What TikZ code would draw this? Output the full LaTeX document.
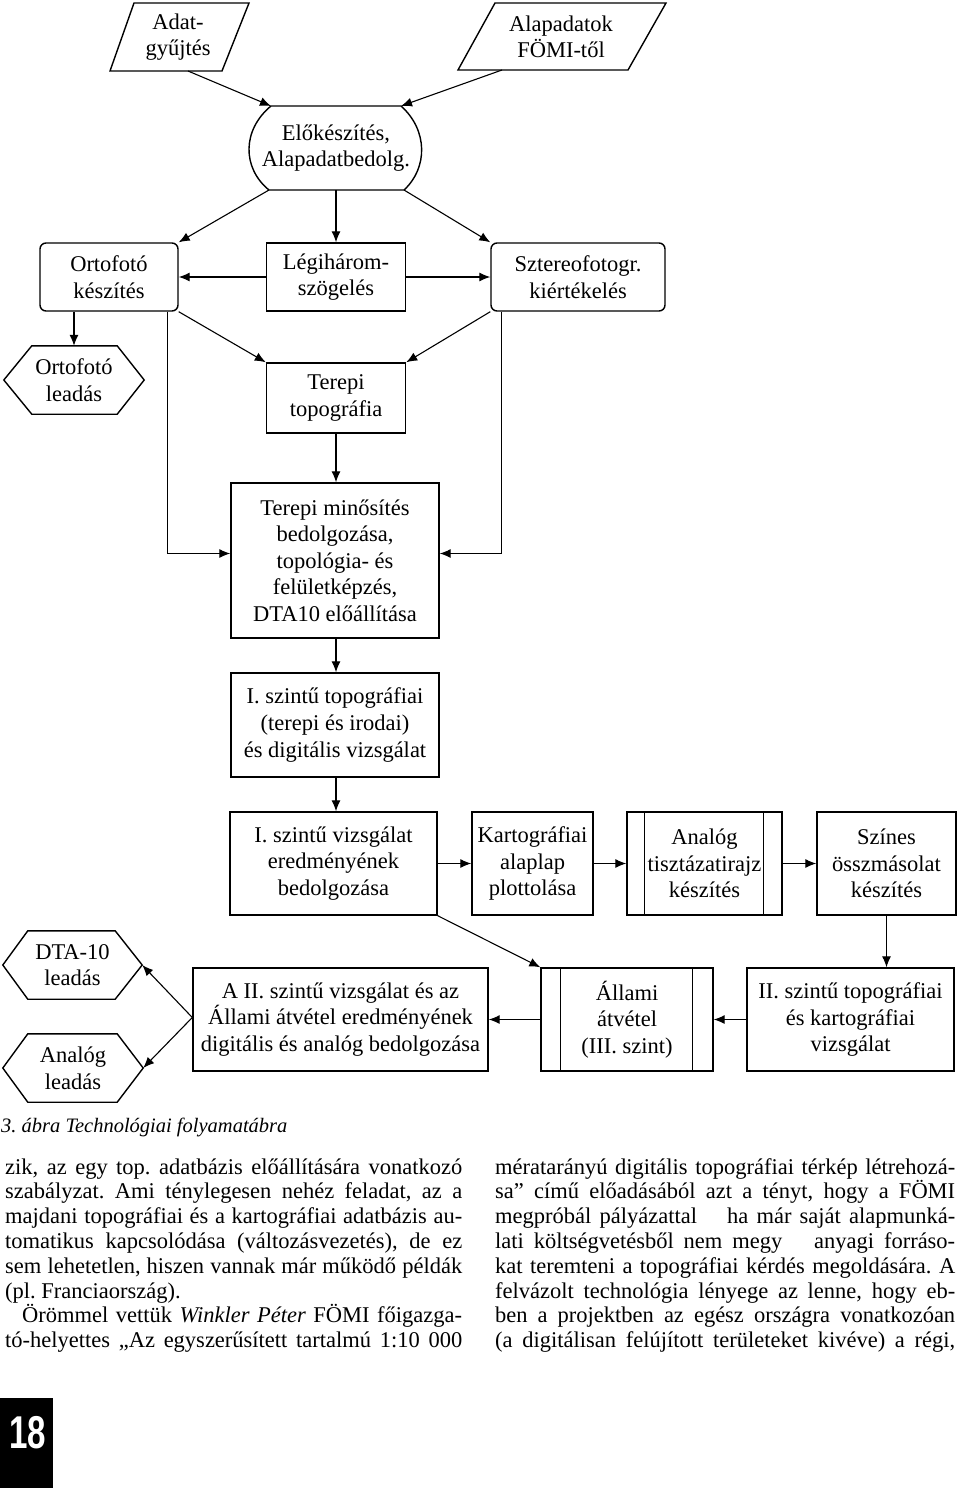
\documentclass[tikz,border=0pt]{standalone}
\usepackage{fontspec}
\setmainfont{Liberation Serif}
\newfontfamily\numfont{Liberation Sans}
\usetikzlibrary{arrows.meta,calc}
\frenchspacing
\newcommand\dfont{\fontsize{22.5}{26.6}\selectfont}
\newcommand\bfont{\fontsize{22.5}{24.8}\selectfont}
\newcommand\jline[2]{\makebox[#1][s]{\spaceskip=0.25em plus 1em minus 0.12em #2}}
\begin{document}
\begin{tikzpicture}[x=1pt,y=-1pt,
  lbl/.style={align=center,font=\dfont,inner sep=0pt},
  box/.style={draw,line width=1.4pt,rectangle,inner sep=0pt,align=center,font=\dfont},
  rbox/.style={box,rounded corners=6pt},
  hexnode/.style={inner sep=0pt,align=center,font=\dfont},
  shapeline/.style={line width=1.4pt,line join=miter},
  conn/.style={line width=1.1pt,-{Latex[length=11pt,width=9pt]}},
  body/.style={anchor=base west,inner sep=0pt,font=\bfont}]
\fill[white] (0,0) rectangle (960,1488);
\useasboundingbox (0,0) rectangle (960,1488);

% ---------- top inputs ----------
\node[lbl] (adat) at (178,37) {Adat-\\gyűjtés};
\draw[shapeline] (134,3) -- (249,3) -- (222,71) -- (110,71) -- cycle;
\coordinate (adatout) at (188,71);
\node[lbl] (alap) at (561,37) {Alapadatok\\FÖMI-től};
\draw[shapeline] (495,3) -- (666,3) -- (628,70) -- (458,70) -- cycle;
\coordinate (alapout) at (502,70);

% ---------- Előkészítés ----------
\node[lbl,minimum width=133pt,minimum height=84pt] (elo) at (336,148) {Előkészítés,\\Alapadatbedolg.};
\coordinate (elonw) at (271,106);
\coordinate (elone) at (401,106);
\coordinate (elosw) at (269,190);
\coordinate (elose) at (404,190);
\draw[shapeline] (elonw) -- (elone) .. controls (428,130) and (428,168) .. (elose) -- (elosw) .. controls (242,168) and (242,130) .. (elonw) -- cycle;

% ---------- row 2 ----------
\node[rbox,minimum width=138pt,minimum height=68pt] (orto) at (109,277) {Ortofotó\\készítés};
\node[box,minimum width=139pt,minimum height=68pt] (legi) at (336,277) {Légihárom-\\szögelés};
\node[rbox,minimum width=174pt,minimum height=68pt] (szt) at (578,277) {Sztereofotogr.\\kiértékelés};

% Ortofotó leadás hexagon
\node[hexnode,minimum width=140pt,minimum height=68pt] (ortol) at (74,380) {Ortofotó\\leadás};
\draw[shapeline] (ortol.west) -- ($(ortol.north west)+(28,0)$) -- ($(ortol.north east)+(-27,0)$) -- (ortol.east) -- ($(ortol.south east)+(-27,0)$) -- ($(ortol.south west)+(28,0)$) -- cycle;

\node[box,minimum width=139pt,minimum height=70pt] (ttopo) at (336,398) {Terepi\\topográfia};
\node[box,minimum width=208pt,minimum height=155pt] (tmin) at (335,560.5) {Terepi minősítés\\bedolgozása,\\topológia- és\\felületképzés,\\DTA10 előállítása};
\node[box,minimum width=208pt,minimum height=104pt] (itopo) at (335,725) {I. szintű topográfiai\\(terepi és irodai)\\és digitális vizsgálat};

% ---------- row of four ----------
\node[box,minimum width=207pt,minimum height=103pt] (ivizs) at (333.5,863.5) {I. szintű vizsgálat\\eredményének\\bedolgozása};
\node[box,minimum width=121pt,minimum height=103pt] (kart) at (532.5,863.5) {Kartográfiai\\alaplap\\plottolása};
\node[box,minimum width=155pt,minimum height=103pt] (anal) at (704.5,863.5) {Analóg\\tisztázatirajz\\készítés};
\draw[line width=1.2pt] ($(anal.north west)+(18,0)$) -- ($(anal.south west)+(18,0)$);
\draw[line width=1.2pt] ($(anal.north east)+(-19,0)$) -- ($(anal.south east)+(-19,0)$);
\node[box,minimum width=139pt,minimum height=103pt] (szines) at (886.5,863.5) {Színes\\összmásolat\\készítés};

% ---------- bottom row ----------
\node[box,minimum width=295pt,minimum height=103pt] (aii) at (340.5,1019.5) {A II. szintű vizsgálat és az\\Állami átvétel eredményének\\digitális és analóg bedolgozása};
\node[box,minimum width=172pt,minimum height=103pt] (allami) at (627,1019.5) {Állami\\átvétel\\(III. szint)};
\draw[line width=1.2pt] ($(allami.north west)+(20,0)$) -- ($(allami.south west)+(20,0)$);
\draw[line width=1.2pt] ($(allami.north east)+(-21,0)$) -- ($(allami.south east)+(-21,0)$);
\node[box,minimum width=207pt,minimum height=103pt] (iiszint) at (850.5,1019.5) {II. szintű topográfiai\\és kartográfiai\\vizsgálat};

\node[hexnode,minimum width=139pt,minimum height=68pt] (dta) at (72.5,965) {DTA-10\\leadás};
\draw[shapeline] (dta.west) -- ($(dta.north west)+(25,0)$) -- ($(dta.north east)+(-27,0)$) -- (dta.east) -- ($(dta.south east)+(-27,0)$) -- ($(dta.south west)+(25,0)$) -- cycle;
\node[hexnode,minimum width=140pt,minimum height=68pt] (anl) at (73,1068) {Analóg\\leadás};
\draw[shapeline] (anl.west) -- ($(anl.north west)+(25,0)$) -- ($(anl.north east)+(-26,0)$) -- (anl.east) -- ($(anl.south east)+(-26,0)$) -- ($(anl.south west)+(25,0)$) -- cycle;

% ---------- connectors ----------
\draw[conn] (adatout) -- (elonw);
\draw[conn] (alapout) -- (elone);
\draw[conn] (elosw) -- (orto.north east);
\draw[conn] (elo.south) -- (legi.north);
\draw[conn] (elose) -- (szt.north west);
\draw[conn] (legi.west) -- (orto.east);
\draw[conn] (legi.east) -- (szt.west);
\draw[conn] (orto.south -| ortol.north) -- (ortol.north);
\draw[conn] (orto.south east) -- (ttopo.north west);
\draw[conn] (szt.south west) -- (ttopo.north east);
\draw[conn] (ttopo.south) -- (ttopo.south |- tmin.north);
\draw[conn] ($(orto.south east)+(-11,0)$) |- ($(tmin.west)+(0,-7)$);
\draw[conn] ($(szt.south west)+(11,0)$) |- ($(tmin.east)+(0,-7)$);
\draw[conn] (tmin.south -| ttopo.south) -- (ttopo.south |- itopo.north);
\draw[conn] (itopo.south -| ttopo.south) -- (ttopo.south |- ivizs.north);
\draw[conn] (ivizs.east) -- (kart.west);
\draw[conn] (kart.east) -- (anal.west);
\draw[conn] (anal.east) -- (szines.west);
\draw[conn] (szines.south) -- (szines.south |- iiszint.north);
\draw[conn] (iiszint.west) -- (allami.east);
\draw[conn] (allami.west) -- (aii.east);
\draw[conn] (ivizs.south east) -- (allami.north west);
\draw[conn] ($(aii.west)+(0,-2)$) -- (dta.east);
\draw[conn] ($(aii.west)+(0,-2)$) -- (anl.east);

% ---------- caption and text ----------
\node[anchor=base west,inner sep=0pt,font=\fontsize{20.5}{24}\selectfont\itshape] (cap) at (1,1132) {3. ábra Technológiai folyamatábra};

\node[body] (l1) at (5,1174) {\jline{457pt}{zik, az egy top. adatbázis előállítására vonatkozó}};
\node[body] (l2) at (5,1198.8) {\jline{457pt}{szabályzat. Ami ténylegesen nehéz feladat, az a}};
\node[body] (l3) at (5,1223.6) {\jline{457pt}{majdani topográfiai és a kartográfiai adatbázis au-}};
\node[body] (l4) at (5,1248.4) {\jline{457pt}{tomatikus kapcsolódása (változásvezetés), de ez}};
\node[body] (l5) at (5,1273.2) {\jline{457pt}{sem lehetetlen, hiszen vannak már működő példák}};
\node[body] (l6) at (5,1298) {(pl. Franciaország).};
\node[body] (l7) at (22,1322.8) {\jline{440pt}{Örömmel vettük \textit{Winkler Péter} FÖMI főigazga-}};
\node[body] (l8) at (5,1347.6) {\jline{457pt}{tó-helyettes „Az egyszerűsített tartalmú 1:10 000}};

\node[body] (r1) at (495,1174) {\jline{460pt}{mératarányú digitális topográfiai térkép létrehozá-}};
\node[body] (r2) at (495,1198.8) {\jline{460pt}{sa” című előadásából azt a tényt, hogy a FÖMI}};
\node[body] (r3) at (495,1223.6) {\jline{460pt}{megpróbál pályázattal\hspace{22pt} ha már saját alapmunká-}};
\node[body] (r4) at (495,1248.4) {\jline{460pt}{lati költségvetésből nem megy\hspace{22pt} anyagi forráso-}};
\node[body] (r5) at (495,1273.2) {\jline{460pt}{kat teremteni a topográfiai kérdés megoldására. A}};
\node[body] (r6) at (495,1298) {\jline{460pt}{felvázolt technológia lényege az lenne, hogy eb-}};
\node[body] (r7) at (495,1322.8) {\jline{460pt}{ben a projektben az egész országra vonatkozóan}};
\node[body] (r8) at (495,1347.6) {\jline{460pt}{(a digitálisan felújított területeket kivéve) a régi,}};

% ---------- page number ----------
\fill[black] (0,1398) rectangle (53,1488);
\node[inner sep=0pt,text=white,font=\numfont\bfseries\fontsize{46}{46}\selectfont] (pg) at (28,1433) {\scalebox{0.72}[1]{18}};
\end{tikzpicture}
\end{document}
